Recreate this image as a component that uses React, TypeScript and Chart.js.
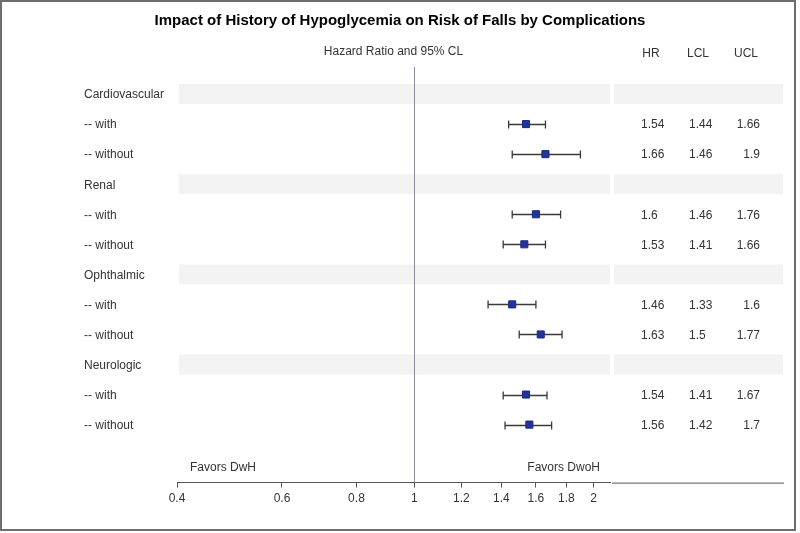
import { useEffect, useRef } from 'react';
import { Chart, registerables } from 'chart.js';

Chart.register(...registerables);

const rowLabels = [
  'Cardiovascular', '-- with', '-- without',
  'Renal', '-- with', '-- without',
  'Ophthalmic', '-- with', '-- without',
  'Neurologic', '-- with', '-- without',
];
const headerRows = [true, false, false, true, false, false, true, false, false, true, false, false];
const hrValues: (number | null)[] = [null, 1.54, 1.66, null, 1.6, 1.53, null, 1.46, 1.63, null, 1.54, 1.56];
const lclValues: (number | null)[] = [null, 1.44, 1.46, null, 1.46, 1.41, null, 1.33, 1.5, null, 1.41, 1.42];
const uclValues: (number | null)[] = [null, 1.66, 1.9, null, 1.76, 1.66, null, 1.6, 1.77, null, 1.67, 1.7];
const xTicks = [0.4, 0.6, 0.8, 1, 1.2, 1.4, 1.6, 1.8, 2];

const titleText = 'Impact of History of Hypoglycemia on Risk of Falls by Complications';
const axisTitle = 'Hazard Ratio and 95% CL';
const tableHeaders = ['HR', 'LCL', 'UCL'];
const favorsLeft = 'Favors DwH';
const favorsRight = 'Favors DwoH';

const FONT = '"Liberation Sans", Arial, sans-serif';

const forestPlugin = {
  id: 'forest',
  beforeDatasetsDraw(chart: any) {
    const { ctx, chartArea, scales } = chart;
    const x = scales.x;
    const y = scales.y;
    ctx.save();
    // bands for header rows
    ctx.fillStyle = '#f3f3f4';
    rowLabels.forEach((_, i) => {
      if (!headerRows[i]) return;
      const py = y.getPixelForValue(i);
      ctx.fillRect(chartArea.left + 2, py - 10, chartArea.right - chartArea.left - 2, 20);
      ctx.fillRect(chartArea.right + 4, py - 10, 169, 20);
    });
    // reference line at 1
    const x1 = Math.round(x.getPixelForValue(1)) + 0.5;
    ctx.strokeStyle = '#8c8c9c';
    ctx.lineWidth = 1;
    ctx.beginPath();
    ctx.moveTo(x1, chartArea.top);
    ctx.lineTo(x1, chartArea.bottom);
    ctx.stroke();
    // whiskers
    ctx.strokeStyle = '#3a3a3a';
    ctx.lineWidth = 1.3;
    rowLabels.forEach((_, i) => {
      const l = lclValues[i];
      const u = uclValues[i];
      if (l == null || u == null) return;
      const py = Math.round(y.getPixelForValue(i)) + 0.5;
      const pl = x.getPixelForValue(l);
      const pu = x.getPixelForValue(u);
      ctx.beginPath();
      ctx.moveTo(pl, py);
      ctx.lineTo(pu, py);
      ctx.moveTo(pl, py - 4);
      ctx.lineTo(pl, py + 4);
      ctx.moveTo(pu, py - 4);
      ctx.lineTo(pu, py + 4);
      ctx.stroke();
    });
    ctx.restore();
  },
  afterDraw(chart: any) {
    const { ctx, chartArea, scales } = chart;
    const y = scales.y;
    ctx.save();
    // title
    ctx.fillStyle = '#000';
    ctx.font = `bold 15px ${FONT}`;
    ctx.textAlign = 'center';
    ctx.textBaseline = 'middle';
    ctx.fillText(titleText, 400, 21);
    // axis title
    ctx.fillStyle = '#333';
    ctx.font = `12px ${FONT}`;
    ctx.fillText(axisTitle, (chartArea.left + chartArea.right) / 2, 52);
    // table headers
    const R = chartArea.right;
    const hdrX = [R + 41, R + 88, R + 136];
    tableHeaders.forEach((h, k) => ctx.fillText(h, hdrX[k], 54));
    // row labels
    ctx.textAlign = 'left';
    rowLabels.forEach((lab, i) => {
      const py = y.getPixelForValue(i);
      ctx.fillText(lab, 84, py + 1);
      if (hrValues[i] != null) {
        ctx.textAlign = 'left';
        ctx.fillText(String(hrValues[i]), R + 31, py + 1);
        ctx.fillText(String(lclValues[i]), R + 79, py + 1);
        ctx.textAlign = 'right';
        ctx.fillText(String(uclValues[i]), R + 150, py + 1);
        ctx.textAlign = 'left';
      }
    });
    // favors labels
    const fy = chartArea.bottom - 15;
    ctx.textAlign = 'left';
    ctx.fillText(favorsLeft, chartArea.left + 13, fy);
    ctx.textAlign = 'right';
    ctx.fillText(favorsRight, R - 10, fy);
    // extended axis line under the table
    ctx.strokeStyle = '#555';
    ctx.lineWidth = 1;
    ctx.beginPath();
    ctx.moveTo(R + 2, chartArea.bottom + 0.5);
    ctx.lineTo(784, chartArea.bottom + 0.5);
    ctx.stroke();
    // outer frame
    ctx.strokeStyle = '#6e6e6e';
    ctx.lineWidth = 2;
    ctx.strokeRect(1, 1, 794, 529);
    ctx.restore();
  },
};

export default function App() {
  const ref = useRef<HTMLCanvasElement | null>(null);
  useEffect(() => {
    if (!ref.current) return;
    const points = hrValues
      .map((v, i) => (v == null ? null : { x: v, y: i }))
      .filter((p) => p !== null);
    const chart = new Chart(ref.current, {
      type: 'scatter',
      data: {
        datasets: [
          {
            data: points as any,
            pointStyle: 'rect',
            pointRadius: 5,
            backgroundColor: '#24339a',
            borderColor: '#1b2a80',
            borderWidth: 1,
          },
        ],
      },
      options: {
        responsive: false,
        animation: false,
        devicePixelRatio: 1,
        layout: { padding: { left: 177, right: 190, top: 67, bottom: 23 } },
        plugins: { legend: { display: false }, tooltip: { enabled: false } },
        scales: {
          x: {
            type: 'logarithmic',
            min: 0.4,
            max: 2.13,
            afterBuildTicks: (scale: any) => {
              scale.ticks = xTicks.map((v) => ({ value: v }));
            },
            ticks: {
              autoSkip: false,
              maxRotation: 0,
              color: '#333',
              font: { size: 12, family: FONT },
              padding: 4,
              callback: (v: any) => String(v),
            },
            grid: { drawOnChartArea: false, drawTicks: true, tickLength: 5, color: '#555' },
            border: { display: true, color: '#555', width: 1 },
          },
          y: {
            type: 'linear',
            display: false,
            reverse: true,
            min: -0.9,
            max: 12.93,
          },
        },
      },
      plugins: [forestPlugin],
    });
    return () => chart.destroy();
  }, []);
  return (
    <div style={{ position: 'absolute', left: 0, top: 0, width: 800, height: 533, background: '#fff' }}>
      <canvas ref={ref} width={800} height={533} />
    </div>
  );
}
